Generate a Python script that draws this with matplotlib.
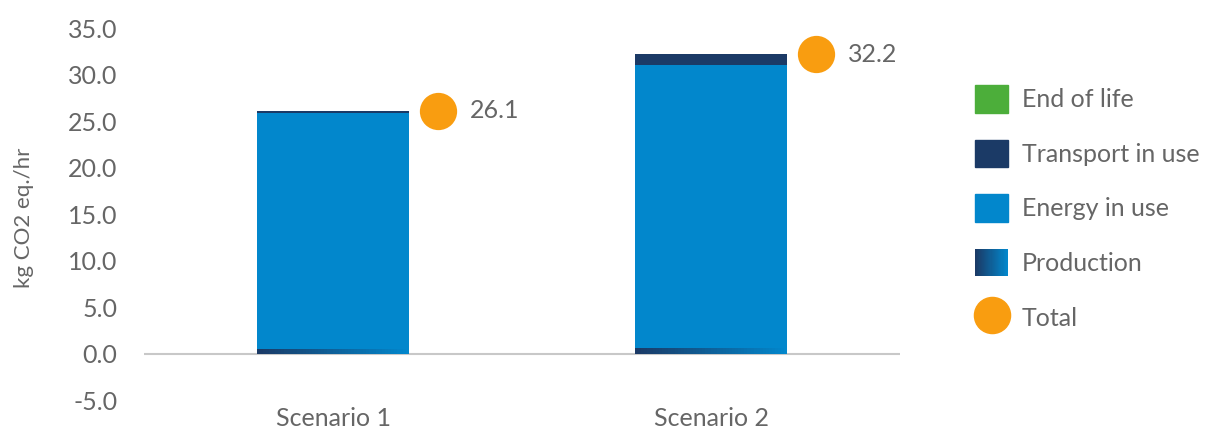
import numpy as np
import matplotlib.pyplot as plt
from matplotlib.patches import Rectangle, Patch
from matplotlib.lines import Line2D
from matplotlib.legend_handler import HandlerBase
from matplotlib.colors import LinearSegmentedColormap

plt.rcParams['font.family'] = ['Lato', 'DejaVu Sans']

scenarios = ['Scenario 1', 'Scenario 2']
production = [0.5, 0.6]
energy = [25.4, 30.4]
transport = [0.2, 1.2]
end_of_life = [0.0, 0.0]
totals = [26.1, 32.2]

c_eol = '#4cae3a'
c_trans = '#1b3a66'
c_energy = '#0287cc'
c_total = '#f99d10'
c_text = '#666666'
grad = LinearSegmentedColormap.from_list('prod', [c_trans, c_energy])


class GradientHandler(HandlerBase):
    # legend swatch for production: dark-to-blue gradient
    def create_artists(self, legend, orig, xd, yd, w, h, fontsize, trans):
        n = 30
        arts = []
        for i in range(n):
            r = Rectangle((-xd + w * i / n, -yd), w / n + 0.3, h,
                          facecolor=grad(i / (n - 1)), edgecolor='none',
                          transform=trans)
            arts.append(r)
        return arts


fig = plt.figure(figsize=(12.1, 4.34), dpi=100)
ax = fig.add_axes([144 / 1210, 0.0783, 756 / 1210, 0.857])

x = np.arange(len(scenarios))
w = 0.40
prod = np.array(production)
en = np.array(energy)
tr = np.array(transport)
eol = np.array(end_of_life)

ax.bar(x, prod, w, color=c_trans, zorder=2)
for xi, p in zip(x, prod):
    ax.imshow(np.linspace(0, 1, 50).reshape(1, -1), cmap=grad, aspect='auto',
              extent=[xi - w / 2, xi + w / 2, 0, p], zorder=3)
ax.bar(x, en, w, bottom=prod, color=c_energy, zorder=2)
ax.bar(x, tr, w, bottom=prod + en, color=c_trans, zorder=2)
ax.bar(x, eol, w, bottom=prod + en + tr, color=c_eol, zorder=2)

ax.scatter(x + 0.277, totals, s=720, color=c_total, zorder=4, linewidths=0)
for xi, t in zip(x, totals):
    ax.text(xi + 0.363, t, f'{t:.1f}', va='center', ha='left',
            fontsize=18, color=c_text)

ax.axhline(0, color='#c8c8c8', lw=1.5, zorder=1)
ax.set_xlim(-0.5, 1.5)
ax.set_ylim(-5, 35)
ax.set_yticks(np.arange(-5, 36, 5))
ax.set_yticklabels([f'{v:.1f}' for v in np.arange(-5, 36, 5)])
ax.set_xticks(x)
ax.set_xticklabels(scenarios)
ax.tick_params(length=0, labelsize=18, colors=c_text, pad=19)
ax.tick_params(axis='x', pad=5)
for s in ax.spines.values():
    s.set_visible(False)
ax.set_ylabel('kg CO2 eq./hr', fontsize=16, color=c_text)
ax.yaxis.set_label_coords(-0.145, 0.49)

handles = [Patch(color=c_eol), Patch(color=c_trans), Patch(color=c_energy),
           Patch(color=c_trans),
           Line2D([], [], marker='o', ls='', markersize=26, color=c_total)]
labels = ['End of life', 'Transport in use', 'Energy in use', 'Production', 'Total']
leg = ax.legend(handles, labels, loc='center left', bbox_to_anchor=(1.086, 0.516),
                frameon=False, fontsize=18, labelcolor=c_text, borderaxespad=0,
                handlelength=1.32, handleheight=1.32, labelspacing=1.08,
                handletextpad=0.55,
                handler_map={handles[3]: GradientHandler()})

fig.savefig('out.png', dpi=100)
